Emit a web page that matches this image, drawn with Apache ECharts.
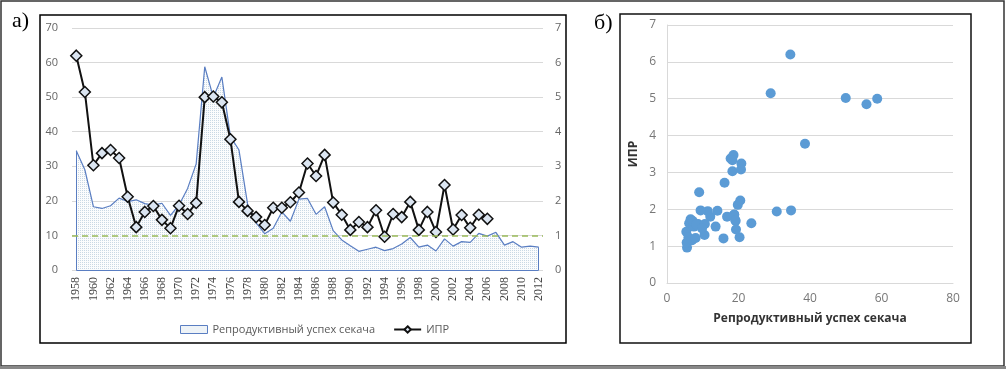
<!DOCTYPE html>
<html>
<head>
<meta charset="utf-8">
<script src="https://cdn.jsdelivr.net/npm/echarts@6/dist/echarts.min.js"></script>
<style>
  html, body { margin: 0; padding: 0; background: #fff; }
  #chart { width: 1006px; height: 369px; }
</style>
</head>
<body>
<div id="chart"></div>
<script>
// years on the category axis
const years = ['1958', '1959', '1960', '1961', '1962', '1963', '1964', '1965', '1966', '1967',
  '1968', '1969', '1970', '1971', '1972', '1973', '1974', '1975', '1976', '1977',
  '1978', '1979', '1980', '1981', '1982', '1983', '1984', '1985', '1986', '1987',
  '1988', '1989', '1990', '1991', '1992', '1993', '1994', '1995', '1996', '1997',
  '1998', '1999', '2000', '2001', '2002', '2003', '2004', '2005', '2006', '2007',
  '2008', '2009', '2010', '2011', '2012']

// Репродуктивный успех секача (left axis), 1958-2012
const repro = [34.5, 29, 18.3, 17.8, 18.6, 20.8, 19.8, 20.3, 19.2, 18.8,
  19.3, 15.8, 18.8, 23.6, 30.7, 58.8, 50, 55.8, 38.6, 34.7,
  19.1, 13.6, 10.5, 12.1, 16.8, 14.1, 20.5, 20.7, 16.1, 18.3,
  11.4, 8.7, 7, 5.4, 6, 6.6, 5.6, 6.2, 7.5, 9.4,
  6.6, 7.2, 5.5, 9, 6.9, 8.2, 8, 10.6, 9.8, 10.9,
  7.2, 8.2, 6.6, 6.9, 6.6]

// ИПР (right axis), 1958-2006
const ipr = [6.2, 5.15, 3.03, 3.38, 3.47, 3.24, 2.12, 1.24, 1.68, 1.85,
  1.45, 1.21, 1.86, 1.62, 1.94, 5.0, 5.02, 4.85, 3.78, 1.97,
  1.71, 1.53, 1.3, 1.8, 1.8, 1.96, 2.24, 3.08, 2.72, 3.33,
  1.95, 1.6, 1.16, 1.39, 1.24, 1.73, 0.96, 1.62, 1.53, 1.97,
  1.16, 1.68, 1.1, 2.46, 1.17, 1.59, 1.22, 1.6, 1.48]

const thresholdLine = 10
const leftTicks = [0, 70, 10]   // min, max, step
const rightTicks = [0, 7, 1]
const scatterX = [0, 80, 20]
const scatterY = [0, 7, 1]

const reproName = 'Репродуктивный успех секача'
const iprName = 'ИПР'

// pairs for panel б)
const scatterData = ipr.map((v, i) => [repro[i], v])

// dotted fill like the Excel area pattern
function dotPattern() {
  const c = document.createElement('canvas')
  c.width = 2
  c.height = 2
  const ctx = c.getContext('2d')
  ctx.fillStyle = '#fbfcfd'
  ctx.fillRect(0, 0, 2, 2)
  ctx.fillStyle = '#c9d8e4'
  ctx.fillRect(0, 0, 1, 1)
  return c
}

const chart = echarts.init(document.getElementById('chart'))
const last = years.length - 1
const lineColor = '#5a7ec2'

const option = {
  animation: false,
  textStyle: { fontFamily: 'Open Sans, Noto Sans, sans-serif' },
  graphic: [
    { type: 'rect', shape: { x: 1, y: 1, width: 1003, height: 365 }, style: { fill: null, stroke: '#333', lineWidth: 1.5 } },
    { type: 'line', shape: { x1: 0, y1: 367.5, x2: 1006, y2: 367.5 }, style: { stroke: '#888', lineWidth: 3 } },
    { type: 'rect', shape: { x: 40, y: 15, width: 526, height: 328 }, style: { fill: null, stroke: '#000', lineWidth: 1.5 } },
    { type: 'rect', shape: { x: 620, y: 14, width: 351, height: 329 }, style: { fill: null, stroke: '#111', lineWidth: 1.5 } },
    { type: 'text', left: 12, top: 10, style: { text: 'а)', font: '22px "Liberation Serif", serif', fill: '#000' } },
    { type: 'text', left: 594, top: 12, style: { text: 'б)', font: '22px "Liberation Serif", serif', fill: '#000' } }
  ],
  legend: {
    left: 175,
    top: 319,
    itemWidth: 27,
    itemHeight: 8,
    itemGap: 18,
    textStyle: { fontSize: 11, color: '#595959' },
    data: [
      { name: reproName, icon: 'rect', itemStyle: { color: '#eef3f7', borderColor: lineColor, borderWidth: 1 } },
      { name: iprName }
    ]
  },
  grid: [
    { left: 72, right: 463, top: 28, bottom: 99 },
    { left: 667, right: 53, top: 25, bottom: 86 }
  ],
  xAxis: [
    {
      type: 'category',
      gridIndex: 0,
      data: years,
      boundaryGap: true,
      axisLine: { show: false },
      axisTick: { show: false },
      axisLabel: { rotate: 90, interval: 1, margin: 7, fontSize: 12, color: '#444', fontFamily: 'Liberation Serif, serif' }
    },
    {
      type: 'value',
      gridIndex: 1,
      min: scatterX[0], max: scatterX[1], interval: scatterX[2],
      axisLine: { show: true, lineStyle: { color: '#d9d9d9' } },
      axisTick: { show: false },
      splitLine: { show: false },
      axisLabel: { fontSize: 12, color: '#777', margin: 10 },
      name: reproName,
      nameLocation: 'middle',
      nameGap: 30,
      nameTextStyle: { fontSize: 12, fontWeight: 'bold', color: '#333' }
    }
  ],
  yAxis: [
    {
      type: 'value',
      gridIndex: 0,
      min: leftTicks[0], max: leftTicks[1], interval: leftTicks[2],
      axisLine: { show: false },
      axisTick: { show: false },
      splitLine: { lineStyle: { color: '#d9d9d9' } },
      axisLabel: { fontSize: 11, color: '#666', margin: 14 }
    },
    {
      type: 'value',
      gridIndex: 0,
      position: 'right',
      min: rightTicks[0], max: rightTicks[1], interval: rightTicks[2],
      axisLine: { show: false },
      axisTick: { show: false },
      splitLine: { show: false },
      axisLabel: { fontSize: 11, color: '#666', margin: 12 }
    },
    {
      type: 'value',
      gridIndex: 1,
      min: scatterY[0], max: scatterY[1], interval: scatterY[2],
      axisLine: { show: true, lineStyle: { color: '#d9d9d9' } },
      axisTick: { show: false },
      splitLine: { lineStyle: { color: '#d9d9d9' } },
      axisLabel: { fontSize: 12, color: '#777', margin: 11 },
      name: iprName,
      nameLocation: 'middle',
      nameRotate: 90,
      nameGap: 27,
      nameTextStyle: { fontSize: 12, fontWeight: 'bold', color: '#333' }
    }
  ],
  series: [
    {
      name: reproName,
      type: 'line',
      xAxisIndex: 0,
      yAxisIndex: 0,
      data: repro,
      symbol: 'none',
      lineStyle: { color: lineColor, width: 1.2 },
      itemStyle: { color: lineColor },
      areaStyle: { color: { image: dotPattern(), repeat: 'repeat' }, opacity: 1 },
      markLine: {
        silent: true,
        symbol: 'none',
        label: { show: false },
        data: [
          [{ coord: [years[0], 0] }, { coord: [years[last], 0] }],
          [{ coord: [years[0], 0] }, { coord: [years[0], repro[0]] }],
          [{ coord: [years[last], 0] }, { coord: [years[last], repro[last]] }],
          { yAxis: thresholdLine, lineStyle: { color: '#9bbb59', type: [6, 4], width: 1.5 } }
        ],
        lineStyle: { color: lineColor, width: 1, type: 'solid' }
      }
    },
    {
      name: iprName,
      type: 'line',
      xAxisIndex: 0,
      yAxisIndex: 1,
      data: ipr,
      symbol: 'diamond',
      symbolSize: 11,
      showAllSymbol: true,
      lineStyle: { color: '#111', width: 2 },
      itemStyle: { color: '#dbe5f1', borderColor: '#111', borderWidth: 1.5 }
    },
    {
      type: 'scatter',
      xAxisIndex: 1,
      yAxisIndex: 2,
      data: scatterData,
      symbolSize: 10,
      itemStyle: { color: '#5b9bd5', opacity: 1 }
    }
  ]
}

chart.setOption(option)
</script>
</body>
</html>
